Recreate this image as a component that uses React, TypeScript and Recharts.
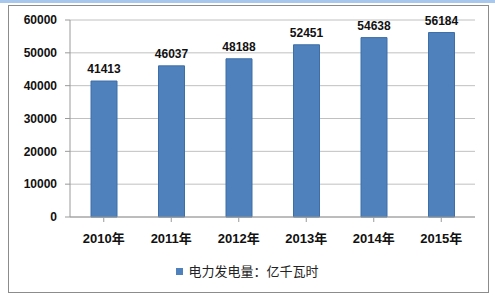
import React from 'react';
import { BarChart, Bar, XAxis, YAxis, CartesianGrid, Legend, LabelList } from 'recharts';

// Annual power generation (100 million kWh)
const years = ['2010年', '2011年', '2012年', '2013年', '2014年', '2015年'];
const generation = [41413, 46037, 48188, 52451, 54638, 56184];
const yTicks = [0, 10000, 20000, 30000, 40000, 50000, 60000];
const seriesName = '电力发电量：亿千瓦时';

const chartData = years.map((year, i) => ({ year, value: generation[i] }));

const latin = '"Liberation Sans", Arial, sans-serif';
const cjk = '"Liberation Sans", "Noto Sans CJK SC", sans-serif';

const renderLegend = () => (
  <div style={{ display: 'flex', justifyContent: 'center', alignItems: 'center', paddingLeft: 10, height: 17 }}>
    <span style={{ display: 'inline-block', width: 7, height: 7, background: '#4f81bd', marginRight: 5 }} />
    <span style={{ fontFamily: cjk, fontSize: 13, color: '#222', lineHeight: '17px' }}>{seriesName}</span>
  </div>
);

export default function App() {
  return (
    <div style={{ position: 'absolute', left: 0, top: 0, width: 495, height: 295, background: '#fff', overflow: 'hidden' }}>
      <div style={{ position: 'absolute', left: 0, top: 0, width: 495, height: 3, background: '#a7c7ec' }} />
      <div style={{ position: 'absolute', left: 8, top: 5, width: 481, height: 288, border: '1px solid #8c8c8c', boxSizing: 'border-box' }} />
      <div style={{ position: 'absolute', left: 0, top: 0 }}>
        <BarChart width={495} height={295} data={chartData} margin={{ top: 20, right: 20, bottom: 15, left: 10 }}>
          <CartesianGrid vertical={false} stroke="#c0c0c0" />
          <XAxis
            dataKey="year"
            height={46}
            stroke="#9a9a9a"
            tickSize={5}
            tickMargin={12}
            tick={{ fill: '#111', fontSize: 13, fontWeight: 'bold', fontFamily: cjk }}
          />
          <YAxis
            width={60}
            domain={[0, 60000]}
            ticks={yTicks}
            interval={0}
            stroke="#9a9a9a"
            tickSize={5}
            tickMargin={8}
            tick={{ fill: '#111', fontSize: 12, fontWeight: 'bold', fontFamily: latin }}
          />
          <Legend verticalAlign="bottom" height={17} content={renderLegend} />
          <Bar dataKey="value" name={seriesName} fill="#4f81bd" stroke="#3d6ea8" barSize={26} isAnimationActive={false}>
            <LabelList dataKey="value" position="top" offset={8} fill="#111" fontSize={12} fontWeight="bold" fontFamily={latin} />
          </Bar>
        </BarChart>
      </div>
    </div>
  );
}
